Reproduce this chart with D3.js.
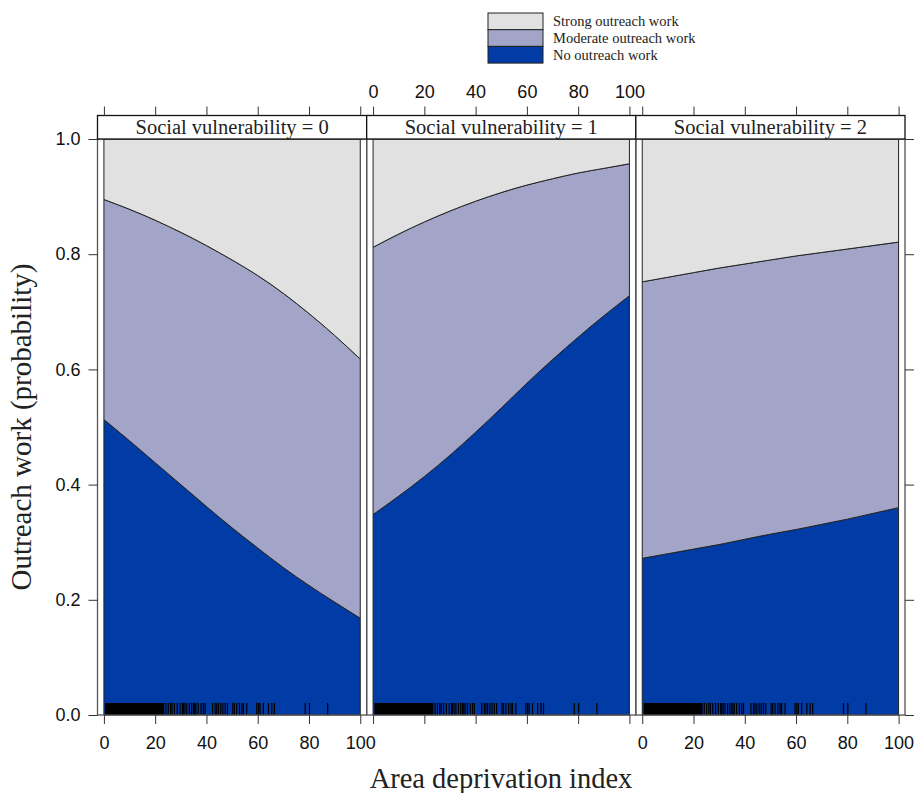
<!DOCTYPE html>
<html>
<head>
<meta charset="utf-8">
<script src="https://cdn.jsdelivr.net/npm/d3@7"></script>
<style>
  html, body { margin: 0; padding: 0; background: #fff; }
  svg { display: block; }
  .tick text { font-family: "Liberation Sans", Arial, sans-serif; font-size: 18px; fill: #111; }
  .tick line { stroke: #333; stroke-width: 1; }
</style>
</head>
<body>
<svg id="chart" width="917" height="793"></svg>
<script>
// Predicted probabilities of outreach work by area deprivation, one panel per social vulnerability level
const deprivation = [0, 10, 20, 30, 40, 50, 60, 70, 80, 90, 100];
const panelLabels = ["Social vulnerability = 0", "Social vulnerability = 1", "Social vulnerability = 2"];
const categories = ["No outreach work", "Moderate outreach work", "Strong outreach work"];

// one row per panel, one value per deprivation level
const probNone = [
  [0.513, 0.476, 0.438, 0.400, 0.362, 0.325, 0.290, 0.256, 0.225, 0.196, 0.168],
  [0.348, 0.380, 0.414, 0.451, 0.491, 0.533, 0.576, 0.617, 0.656, 0.693, 0.728],
  [0.272, 0.280, 0.288, 0.296, 0.305, 0.314, 0.322, 0.331, 0.340, 0.350, 0.360]
];
const probModerate = [
  [0.382, 0.402, 0.421, 0.438, 0.453, 0.465, 0.473, 0.476, 0.472, 0.463, 0.450],
  [0.464, 0.455, 0.442, 0.424, 0.401, 0.374, 0.344, 0.314, 0.285, 0.256, 0.229],
  [0.480, 0.480, 0.480, 0.480, 0.478, 0.476, 0.475, 0.472, 0.469, 0.465, 0.461]
];
const probStrong = [
  [0.105, 0.122, 0.141, 0.162, 0.185, 0.210, 0.237, 0.268, 0.303, 0.341, 0.382],
  [0.188, 0.165, 0.144, 0.125, 0.108, 0.093, 0.080, 0.069, 0.059, 0.051, 0.043],
  [0.248, 0.240, 0.232, 0.224, 0.217, 0.210, 0.203, 0.197, 0.191, 0.185, 0.179]
];

// observed deprivation index values (rug)
const rugDeprivation = [
  0.8, 0.9, 1.1, 1.3, 1.5, 1.6, 1.8, 2.0, 2.2, 2.4, 2.6, 2.7, 2.9, 3.1, 3.3, 3.4, 3.6, 3.8,
  4.0, 4.2, 4.4, 4.6, 4.7, 4.9, 5.1, 5.3, 5.5, 5.7, 5.8, 6.0, 6.2, 6.4, 6.5, 6.7, 6.9, 7.1,
  7.2, 7.4, 7.6, 7.8, 7.9, 8.1, 8.3, 8.5, 8.7, 8.9, 9.0, 9.2, 9.4, 9.6, 9.7, 9.9, 10.1, 10.3,
  10.4, 10.6, 10.8, 11.0, 11.2, 11.4, 11.5, 11.7, 11.9, 12.1, 12.2, 12.4, 12.6, 12.8, 13.0,
  13.2, 13.3, 13.5, 13.7, 13.9, 14.0, 14.2, 14.4, 14.6, 14.8, 15.0, 15.1, 15.3, 15.5, 15.7,
  15.8, 16.0, 16.2, 16.4, 16.6, 16.8, 16.9, 17.1, 17.3, 17.5, 17.6, 17.8, 18.0, 18.2, 18.4,
  18.6, 18.7, 18.9, 19.1, 19.3, 19.4, 19.6, 19.8, 20.0, 20.2, 20.4, 20.5, 20.7, 20.9, 21.1,
  21.2, 21.4, 21.6, 21.8, 22.0, 22.2, 22.3, 22.5, 22.7, 22.9, 23.1, 23.3,
  24.2, 25.1, 26.0, 26.6, 27.5, 28.6, 29.7, 30.6, 31.0, 31.6, 32.3, 33.3, 34.2, 34.9, 35.4,
  35.9, 36.8, 37.9, 38.8, 39.5, 42.4, 43.4, 44.0, 44.7, 45.6, 46.4, 47.3, 48.2, 50.3, 50.9,
  51.8, 52.9, 53.8, 54.4, 55.7, 59.6, 60.3, 60.9, 62.2, 64.2, 65.5, 66.5, 78.5, 80.2, 87.3
];

const xTicks = [0, 20, 40, 60, 80, 100];
const yTicks = [0, 0.2, 0.4, 0.6, 0.8, 1.0];
const fillColors = ["#003ba6", "#a2a5c8", "#e1e1e1"];

const serif = "'Liberation Serif', 'Times New Roman', serif";
const svg = d3.select("#chart");
const plotLeft = 97.5, plotRight = 905, plotTop = 139, plotBottom = 715;
const stripH = 23.5;
const panelW = (plotRight - plotLeft) / panelLabels.length;

const y = d3.scaleLinear().domain([0, 1]).range([plotBottom, plotTop]);
const color = d3.scaleOrdinal().domain(categories).range(fillColors);

const stack = d3.stack().keys(categories);

panelLabels.forEach((label, p) => {
  const x0 = plotLeft + p * panelW;
  const x = d3.scaleLinear().domain([-2.5, 102.5]).range([x0, x0 + panelW]);

  const rows = deprivation.map((d, i) => ({
    x: d,
    [categories[0]]: probNone[p][i],
    [categories[1]]: probModerate[p][i],
    [categories[2]]: probStrong[p][i]
  }));
  const series = stack(rows);

  const g = svg.append("g");

  const area = d3.area()
    .x(d => x(d.data.x))
    .y0(d => y(d[0]))
    .y1(d => y(d[1]))
    .curve(d3.curveNatural);

  g.selectAll("path.layer")
    .data(series)
    .join("path")
    .attr("class", "layer")
    .attr("d", area)
    .attr("fill", s => color(s.key))
    .attr("stroke", "#222")
    .attr("stroke-width", 1);

  // rug of observed values
  g.selectAll("line.rug")
    .data(rugDeprivation)
    .join("line")
    .attr("class", "rug")
    .attr("x1", d => x(d)).attr("x2", d => x(d))
    .attr("y1", plotBottom - 12).attr("y2", plotBottom)
    .attr("stroke", "#000")
    .attr("stroke-width", 1.2);

  // panel frame
  g.append("rect")
    .attr("x", x0).attr("y", plotTop)
    .attr("width", panelW).attr("height", plotBottom - plotTop)
    .attr("fill", "none").attr("stroke", "#555").attr("stroke-width", 1.3);

  // strip
  g.append("rect")
    .attr("x", x0).attr("y", plotTop - stripH)
    .attr("width", panelW).attr("height", stripH)
    .attr("fill", "#fff").attr("stroke", "#111").attr("stroke-width", 1.3);
  g.append("text")
    .attr("x", x0 + panelW / 2).attr("y", plotTop - 5.5)
    .attr("text-anchor", "middle")
    .attr("font-family", serif)
    .attr("font-size", 20.5)
    .attr("fill", "#222")
    .text(label);

  // alternating axes: labels at the bottom for outer panels, on top for the middle one
  const labelBottom = p !== 1;
  const top = d3.axisTop(x).tickValues(xTicks).tickSize(9).tickPadding(9)
    .tickFormat(labelBottom ? () => "" : d3.format("d"));
  const bottom = d3.axisBottom(x).tickValues(xTicks).tickSize(9).tickPadding(12)
    .tickFormat(labelBottom ? d3.format("d") : () => "");

  const gt = svg.append("g").attr("transform", `translate(0,${plotTop - stripH})`).call(top);
  gt.select(".domain").remove();
  const gb = svg.append("g").attr("transform", `translate(0,${plotBottom})`).call(bottom);
  gb.select(".domain").remove();
});

// y axes
const left = d3.axisLeft(y).tickValues(yTicks).tickSize(9).tickPadding(8).tickFormat(d3.format(".1f"));
const gl = svg.append("g").attr("transform", `translate(${plotLeft},0)`).call(left);
gl.select(".domain").remove();
const right = d3.axisRight(y).tickValues(yTicks).tickSize(9).tickFormat(() => "");
const gr = svg.append("g").attr("transform", `translate(${plotRight},0)`).call(right);
gr.select(".domain").remove();

// axis titles
svg.append("text")
  .attr("x", 501).attr("y", 788)
  .attr("text-anchor", "middle")
  .attr("font-family", serif)
  .attr("font-size", 28.5)
  .attr("fill", "#222")
  .text("Area deprivation index");

svg.append("text")
  .attr("transform", "translate(31,427) rotate(-90)")
  .attr("text-anchor", "middle")
  .attr("font-family", serif)
  .attr("font-size", 29)
  .attr("fill", "#222")
  .text("Outreach work (probability)");

// legend, top category first
const legendOrder = categories.slice().reverse();
const legX = 488, legY = 13, legW = 55, legH = 16.7;
const leg = svg.append("g");
leg.selectAll("rect")
  .data(legendOrder)
  .join("rect")
  .attr("x", legX).attr("y", (d, i) => legY + i * legH)
  .attr("width", legW).attr("height", legH)
  .attr("fill", d => color(d))
  .attr("stroke", "#222").attr("stroke-width", 1);
leg.selectAll("text")
  .data(legendOrder)
  .join("text")
  .attr("x", legX + legW + 10)
  .attr("y", (d, i) => legY + i * legH + legH / 2 + 4.8)
  .attr("font-family", serif)
  .attr("font-size", 14.5)
  .attr("fill", "#222")
  .text(d => d);
</script>
</body>
</html>
